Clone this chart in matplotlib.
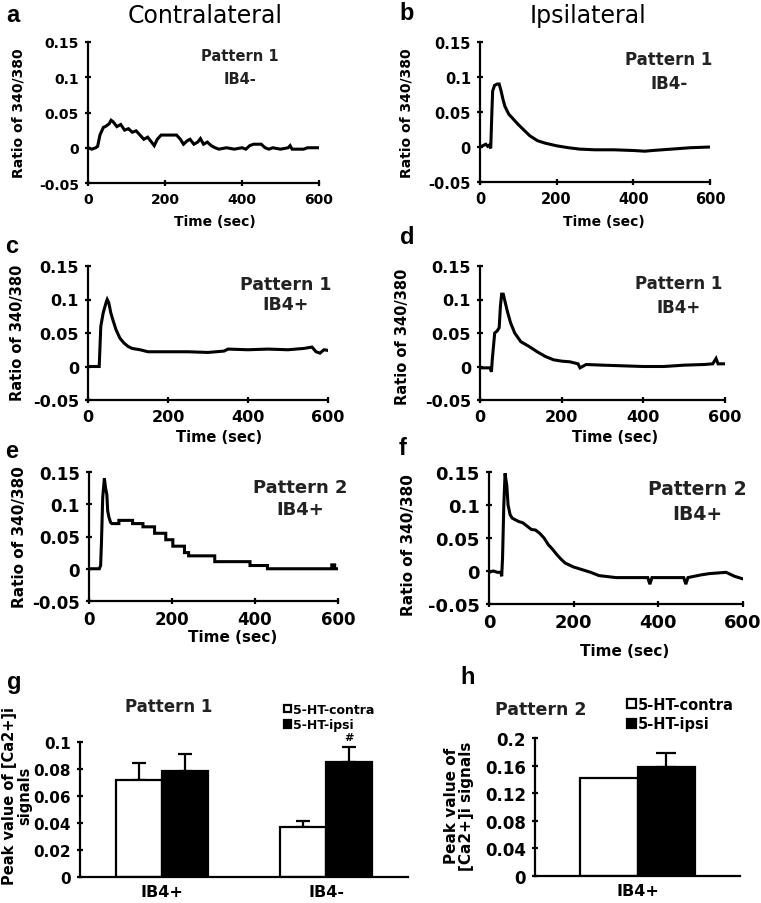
import matplotlib.pyplot as plt
from matplotlib.ticker import FuncFormatter

# ---- traces: time (sec) vs ratio 340/380 ----
a_t = [0, 10, 20, 25, 31, 40, 45, 55, 60, 65, 75, 85, 95, 105, 115, 125, 135, 145, 155, 165,
       172, 180, 190, 200, 230, 240, 248, 258, 265, 275, 285, 292, 300, 310, 320, 330, 340, 360,
       380, 400, 410, 420, 430, 450, 460, 470, 480, 500, 520, 525, 530, 560, 570, 600]
a_v = [0, -0.002, 0, 0.002, 0.018, 0.029, 0.030, 0.034, 0.039, 0.037, 0.030, 0.033, 0.025, 0.027,
       0.022, 0.024, 0.018, 0.012, 0.015, 0.008, 0.003, 0.012, 0.018, 0.018, 0.018, 0.012, 0.005,
       0.010, 0.012, 0.005, 0.008, 0.013, 0.005, 0.008, 0.003, 0.0, -0.002, 0, -0.002, 0, -0.002,
       0.003, 0.005, 0.005, 0, -0.002, 0, -0.002, 0, 0.003, -0.002, -0.002, 0, 0]

b_t = [0, 8, 15, 20, 25, 28, 31, 33, 38, 45, 50, 55, 60, 65, 75, 90, 100, 115, 130, 150, 170,
       200, 230, 260, 300, 350, 400, 430, 450, 500, 550, 600]
b_v = [0, 0.002, 0.004, 0.001, 0.003, -0.002, 0.05, 0.08, 0.088, 0.09, 0.09, 0.08, 0.068, 0.058,
       0.047, 0.038, 0.032, 0.024, 0.016, 0.009, 0.0055, 0.0017, -0.001, -0.003, -0.004, -0.004,
       -0.005, -0.006, -0.005, -0.003, -0.001, 0.0]

c_t = [0, 28, 30, 32, 38, 45, 48, 52, 57, 62, 70, 80, 90, 100, 110, 130, 150, 200, 250, 300,
       340, 350, 400, 450, 500, 540, 560, 570, 580, 590, 600]
c_v = [0, 0, 0.03, 0.06, 0.08, 0.095, 0.1, 0.095, 0.08, 0.07, 0.055, 0.042, 0.035, 0.03, 0.027,
       0.025, 0.022, 0.022, 0.022, 0.021, 0.023, 0.026, 0.025, 0.026, 0.025, 0.027, 0.029, 0.022,
       0.02, 0.025, 0.024]

d_t = [0, 25, 28, 30, 33, 36, 42, 47, 50, 53, 57, 62, 68, 75, 85, 100, 120, 140, 160, 180, 200,
       220, 240, 245, 260, 300, 350, 400, 450, 500, 550, 570, 578, 583, 600]
d_v = [-0.002, -0.002, -0.008, 0.01, 0.03, 0.05, 0.053, 0.058, 0.09, 0.108, 0.108, 0.095, 0.08,
       0.065, 0.05, 0.037, 0.03, 0.022, 0.015, 0.01, 0.008, 0.007, 0.004, -0.002, 0.003, 0.002,
       0.001, 0, 0, 0.002, 0.003, 0.004, 0.012, 0.004, 0.004]

e_t = [0, 25, 28, 30, 33, 37, 40, 43, 45, 48, 52, 55, 72, 72, 105, 105, 130, 130, 158, 158, 185,
       185, 202, 202, 230, 230, 240, 240, 303, 303, 388, 388, 430, 430, 585, 585, 592, 592, 600]
e_v = [0, 0, 0.005, 0.04, 0.11, 0.14, 0.125, 0.115, 0.09, 0.08, 0.072, 0.07, 0.07, 0.075, 0.075,
       0.07, 0.07, 0.065, 0.065, 0.055, 0.055, 0.045, 0.045, 0.035, 0.035, 0.025, 0.025, 0.02,
       0.02, 0.011, 0.011, 0.005, 0.005, 0, 0, 0.006, 0.006, 0, 0]

f_t = [0, 10, 20, 28, 30, 32, 35, 38, 40, 42, 45, 50, 55, 70, 80, 90, 100, 110, 120, 130, 140,
       150, 160, 170, 180, 200, 220, 240, 260, 300, 340, 375, 380, 385, 420, 460, 465, 470, 500,
       520, 540, 560, 570, 580, 590, 600]
f_v = [-0.002, 0, -0.002, -0.002, -0.008, 0.02, 0.1, 0.148, 0.138, 0.13, 0.1, 0.085, 0.08, 0.075,
       0.073, 0.068, 0.063, 0.062, 0.057, 0.05, 0.04, 0.033, 0.025, 0.018, 0.012, 0.006, 0.002,
       -0.002, -0.007, -0.01, -0.01, -0.01, -0.02, -0.01, -0.01, -0.01, -0.02, -0.01, -0.006,
       -0.004, -0.003, -0.002, -0.005, -0.008, -0.01, -0.012]

time_ticks = [0, 200, 400, 600]
ratio_ticks = [-0.05, 0, 0.05, 0.1, 0.15]

# ---- peak values ----
g_groups = ["IB4+", "IB4-"]
g_contra = [0.072, 0.037]
g_contra_err = [0.0125, 0.0045]
g_ipsi = [0.0785, 0.085]
g_ipsi_err = [0.0125, 0.011]
g_ticks = [0, 0.02, 0.04, 0.06, 0.08, 0.1]

h_groups = ["IB4+"]
h_contra = [0.142]
h_ipsi = [0.158]
h_ipsi_err = [0.020]
h_ticks = [0, 0.04, 0.08, 0.12, 0.16, 0.2]

W, H = 761, 904
plt.rcParams['font.family'] = ['DejaVu Sans']
plt.rcParams['font.weight'] = 'bold'
plt.rcParams['axes.labelweight'] = 'bold'
fig = plt.figure(figsize=(W / 100, H / 100), dpi=100)


def add_ax(box):
    l, t, r, b = box
    return fig.add_axes([l / W, 1 - b / H, (r - l) / W, (b - t) / H])


def put(x, y, s, **kw):
    kw.setdefault('ha', 'center')
    kw.setdefault('va', 'center')
    fig.text(x / W, 1 - y / H, s, **kw)


def base_style(ax, fs):
    for side in ('top', 'right'):
        ax.spines[side].set_visible(False)
    for side in ('left', 'bottom'):
        ax.spines[side].set_linewidth(1.6)
    ax.tick_params(direction='inout', length=5, width=1.6, labelsize=fs, pad=4)
    ax.yaxis.set_major_formatter(FuncFormatter(lambda v, _: f"{v:g}"))


def label_at(ax, box, which, text, x, y, fs, **kw):
    l, t, r, b = box
    fx, fy = (x - l) / (r - l), (b - y) / (b - t)
    if which == 'x':
        ax.set_xlabel(text, fontsize=fs, va='center', **kw)
        ax.xaxis.set_label_coords(fx, fy)
    else:
        ax.set_ylabel(text, fontsize=fs, va='center', ha='center', **kw)
        ax.yaxis.set_label_coords(fx, fy)


def trace_panel(t, v, box, fs, lab_fs, pat, pat_pos, pat_fs, pat_ls, time_pos, ylab_pos):
    ax = add_ax(box)
    ax.plot(t, v, color='black', lw=2.2, solid_joinstyle='miter')
    ax.set_xlim(0, 600)
    ax.set_ylim(-0.05, 0.15)
    ax.set_xticks(time_ticks)
    ax.set_yticks(ratio_ticks)
    base_style(ax, fs)
    label_at(ax, box, 'x', 'Time (sec)', *time_pos, lab_fs)
    label_at(ax, box, 'y', 'Ratio of 340/380', *ylab_pos, lab_fs)
    put(*pat_pos, pat, fontsize=pat_fs, color='#222222', linespacing=pat_ls)
    return ax


trace_panel(a_t, a_v, (88, 43, 319, 184), 10, 10, "Pattern 1\nIB4-", (240, 68), 10.5, 1.7,
            (215, 222), (19, 113))
trace_panel(b_t, b_v, (480, 43, 710, 183), 10.5, 10, "Pattern 1\nIB4-", (669, 72), 12, 1.45,
            (604, 222), (407, 113))
trace_panel(c_t, c_v, (88, 267, 328, 401), 11.5, 10.5, "Pattern 1\nIB4+", (286, 295), 12.5, 1.2,
            (219, 437), (18, 333))
trace_panel(d_t, d_v, (480, 267, 725, 401), 11.5, 10.5, "Pattern 1\nIB4+", (679, 296), 12, 1.42,
            (615, 437), (403, 337))
trace_panel(e_t, e_v, (89, 473, 338, 602), 12, 11, "Pattern 2\nIB4+", (300, 499), 13, 1.25,
            (233, 638), (20, 537))
trace_panel(f_t, f_v, (489, 473, 743, 605), 13, 11, "Pattern 2\nIB4+", (697, 502), 13.5, 1.4,
            (625, 652), (408, 545))

# ---- panel g ----
w = 0.28
box_g = (80, 743, 408, 878)
ax = add_ax(box_g)
xg = list(range(len(g_groups)))
bc = ax.bar([x - w / 2 for x in xg], g_contra, w, color='white', edgecolor='black', lw=1.6,
            label='5-HT-contra', zorder=2)
bi = ax.bar([x + w / 2 for x in xg], g_ipsi, w, color='black', edgecolor='black', lw=1.6,
            label='5-HT-ipsi', zorder=2)
ax.errorbar([x - w / 2 for x in xg], g_contra, yerr=[[0] * len(xg), g_contra_err], fmt='none',
            ecolor='black', elinewidth=1.6, capsize=5, capthick=1.6, zorder=1)
ax.errorbar([x + w / 2 for x in xg], g_ipsi, yerr=[[0] * len(xg), g_ipsi_err], fmt='none',
            ecolor='black', elinewidth=1.6, capsize=5, capthick=1.6, zorder=1)
ax.text(1 + w / 2, g_ipsi[1] + g_ipsi_err[1] + 0.004, '#', ha='center', va='bottom', fontsize=8)
ax.set_xlim(-0.5, 1.5)
ax.set_ylim(0, 0.1)
ax.set_yticks(g_ticks)
ax.set_xticks(xg)
ax.set_xticklabels(g_groups)
base_style(ax, 11)
ax.tick_params(axis='x', length=0, pad=5, labelsize=11.5)
label_at(ax, box_g, 'y', 'Peak value of [Ca2+]i\nsignals', 17, 796, 10.5, linespacing=1.0)
ax.legend(handles=[bc, bi], loc='upper left', bbox_to_anchor=(284 / W, 1 - 704 / H),
          bbox_transform=fig.transFigure, frameon=False, fontsize=9, handlelength=0.55,
          handleheight=0.55, handletextpad=0.15, labelspacing=0.2, borderpad=0, borderaxespad=0)
put(169, 707, 'Pattern 1', fontsize=12, color='#222222')

# ---- panel h ----
box_h = (535, 739, 740, 877)
ax = add_ax(box_h)
xh = list(range(len(h_groups)))
bc = ax.bar([x - w / 2 for x in xh], h_contra, w, color='white', edgecolor='black', lw=1.6,
            label='5-HT-contra', zorder=2)
bi = ax.bar([x + w / 2 for x in xh], h_ipsi, w, color='black', edgecolor='black', lw=1.6,
            label='5-HT-ipsi', zorder=2)
ax.errorbar([x + w / 2 for x in xh], h_ipsi, yerr=[[0] * len(xh), h_ipsi_err], fmt='none',
            ecolor='black', elinewidth=1.6, capsize=7, capthick=1.6, zorder=1)
ax.set_xlim(-0.5, 0.5)
ax.set_ylim(0, 0.2)
ax.set_yticks(h_ticks)
ax.set_xticks(xh)
ax.set_xticklabels(h_groups)
base_style(ax, 12)
ax.tick_params(axis='x', length=0, pad=5, labelsize=11.5)
label_at(ax, box_h, 'y', 'Peak value of\n[Ca2+]i signals', 459, 806, 11, linespacing=0.95)
ax.legend(handles=[bc, bi], loc='upper left', bbox_to_anchor=(627 / W, 1 - 698 / H),
          bbox_transform=fig.transFigure, frameon=False, fontsize=10.5, handlelength=0.6,
          handleheight=0.6, handletextpad=0.15, labelspacing=0.3, borderpad=0, borderaxespad=0)
put(541, 710, 'Pattern 2', fontsize=12.5, color='#222222')

# ---- headings and panel letters ----
put(205, 16, 'Contralateral', fontsize=17, fontweight='normal')
put(588, 16, 'Ipsilateral', fontsize=17, fontweight='normal')
letters = [('a', 13, 16), ('b', 407, 14), ('c', 12, 247), ('d', 407, 238),
           ('e', 12, 452), ('f', 403, 449), ('g', 14, 683), ('h', 468, 678)]
for s, x, y in letters:
    put(x, y, s, fontsize=17, family=['Liberation Sans', 'DejaVu Sans'], fontweight='bold')

fig.savefig('out.png', dpi=100)
